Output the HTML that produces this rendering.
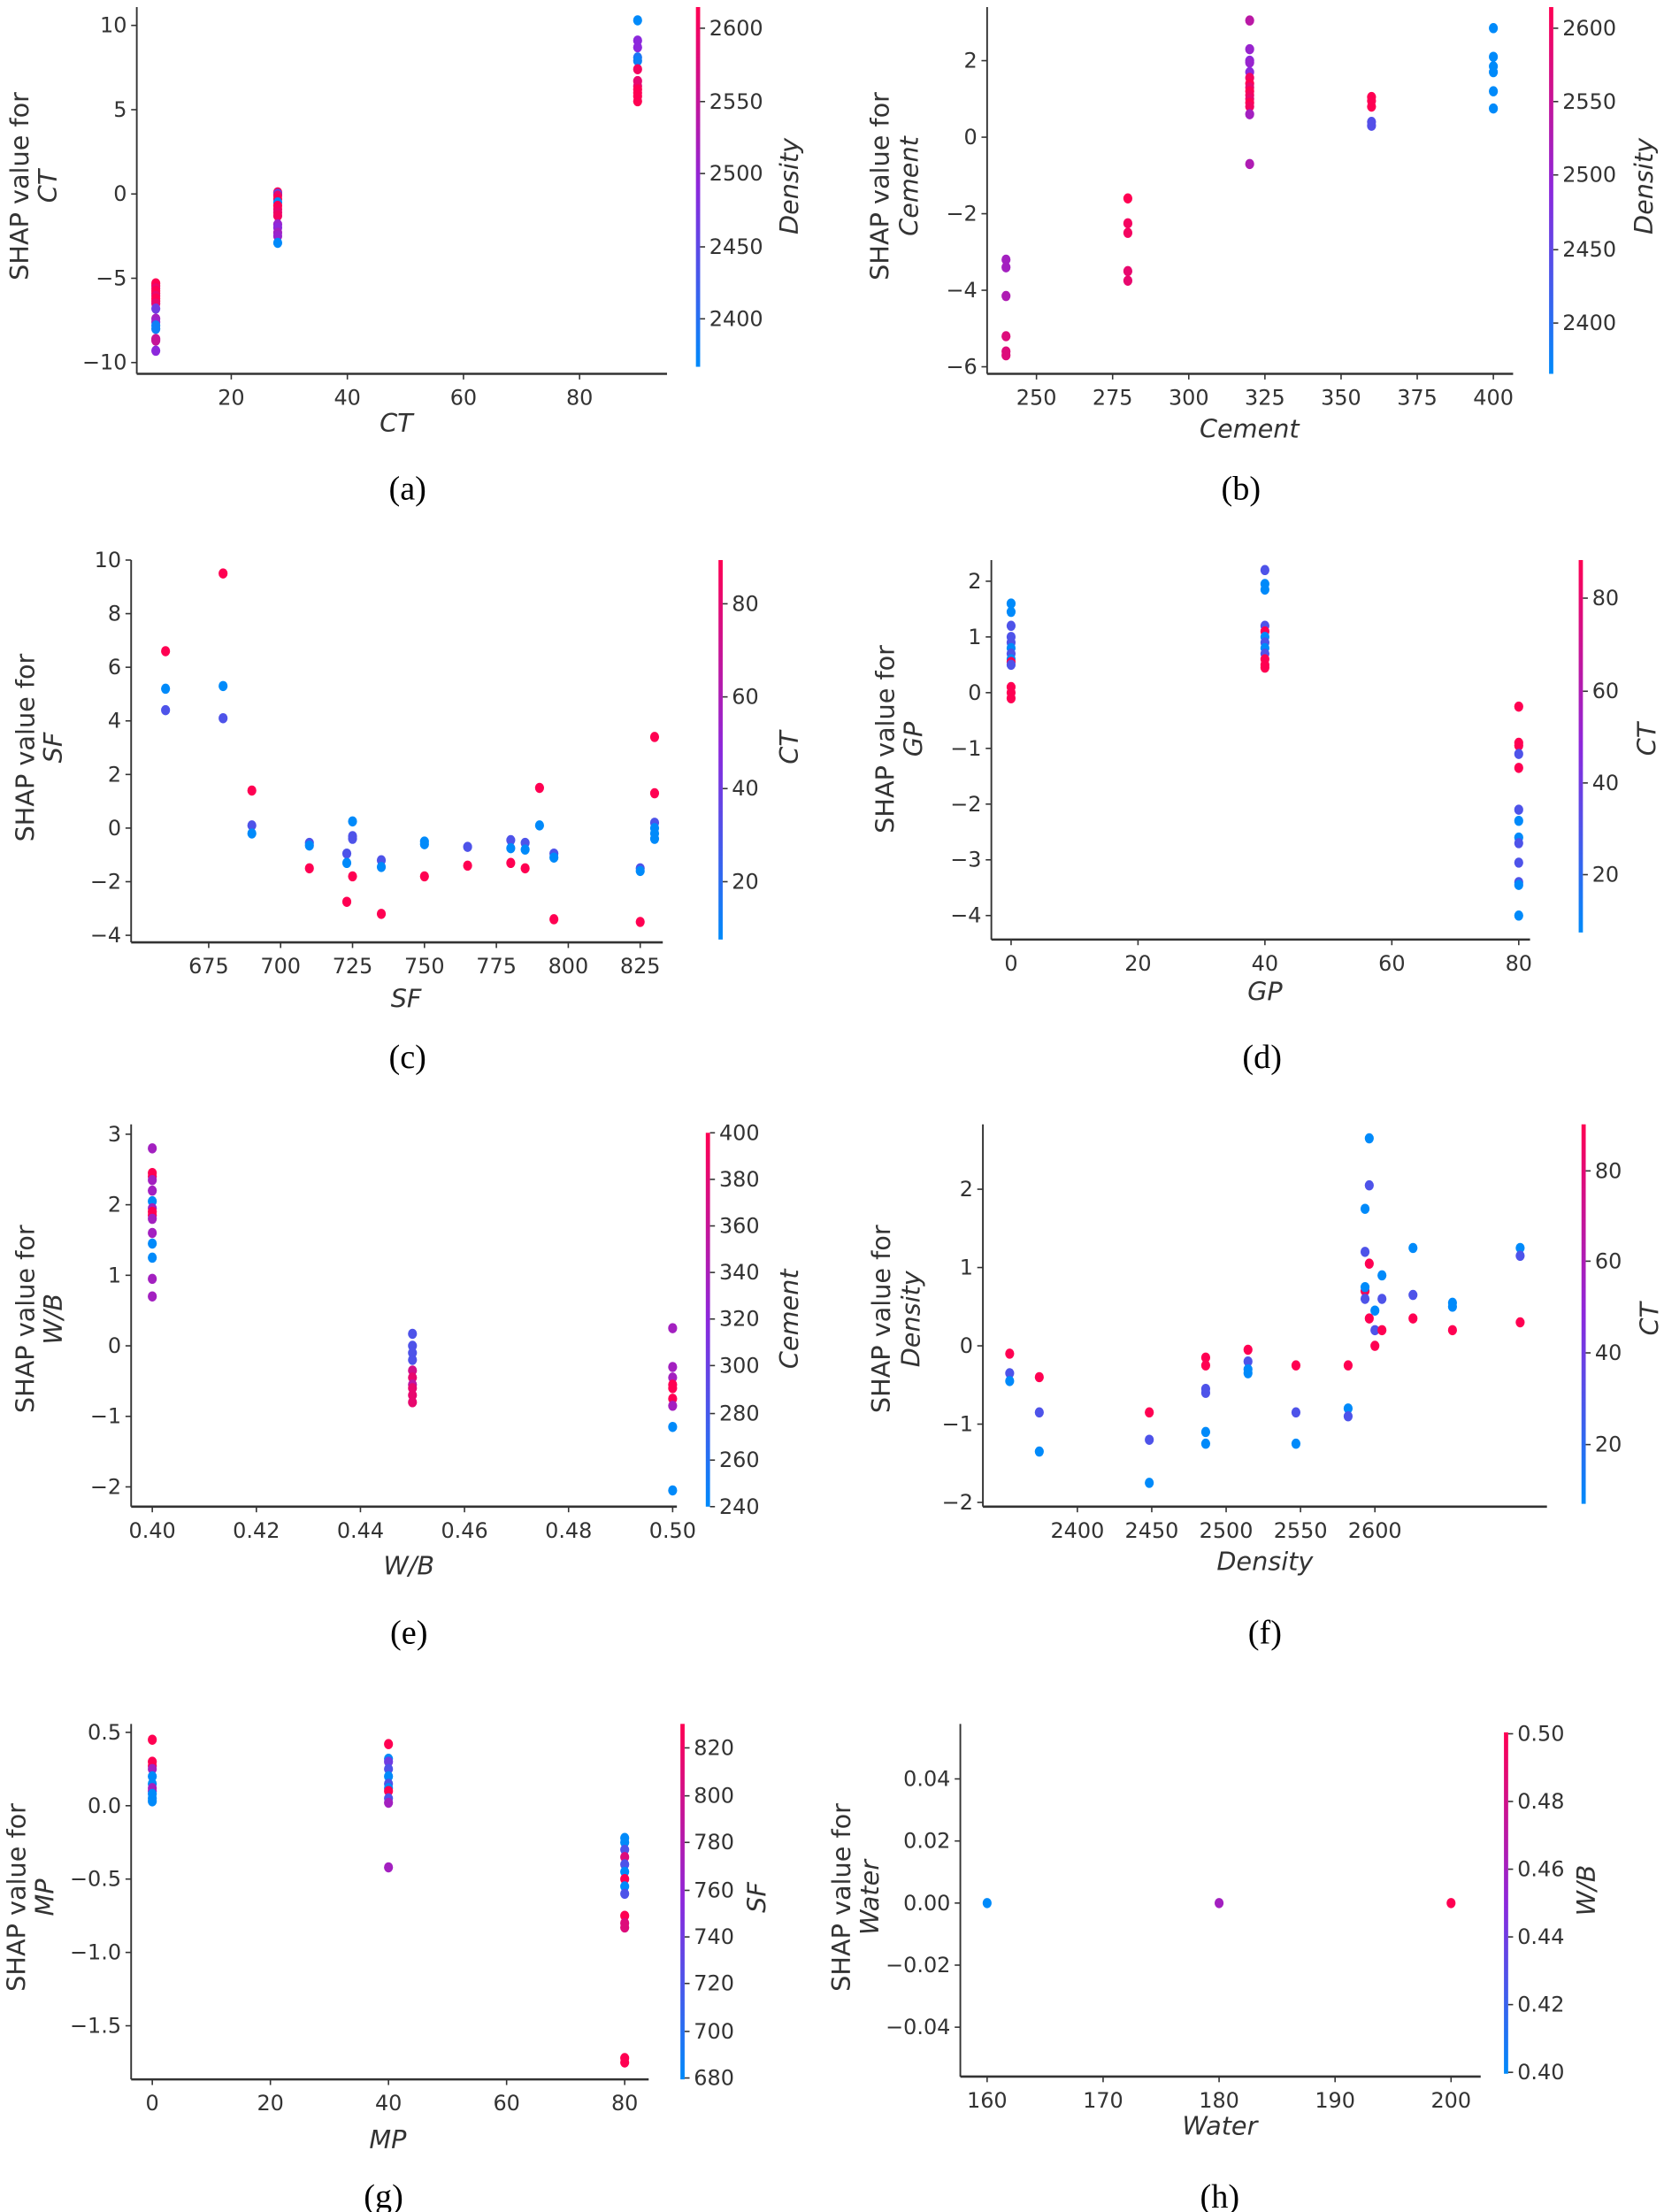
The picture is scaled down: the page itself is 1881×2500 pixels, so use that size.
<!DOCTYPE html>
<html><head><meta charset="utf-8">
<style>
html,body{margin:0;padding:0;background:#fff;}
svg{display:block;}
text{font-family:"DejaVu Sans","Liberation Sans",sans-serif;fill:#333;}
.lt{font-family:"Liberation Serif",serif;fill:#000;}
</style></head>
<body>
<svg id="s" xmlns="http://www.w3.org/2000/svg" width="1881" height="2500" viewBox="0 0 1180 1568" preserveAspectRatio="none">
<defs>
<linearGradient id="cb" x1="0" y1="1" x2="0" y2="0">
<stop offset="0" stop-color="rgb(0,138,250)"/>
<stop offset="0.5" stop-color="rgb(140,40,220)"/>
<stop offset="1" stop-color="rgb(255,0,82)"/>
</linearGradient>
</defs>
</svg>
<script>
const NS="http://www.w3.org/2000/svg";const S=document.getElementById('s');
function el(t,a,txt){const e=document.createElementNS(NS,t);for(const k in a)e.setAttribute(k,a[k]);if(txt!==undefined)e.textContent=txt;S.appendChild(e);return e;}
function col(t){let a,b,u;const B=[0,138,250],P=[140,40,220],R=[255,0,82];if(t<.5){a=B;b=P;u=t/.5}else{a=P;b=R;u=(t-.5)/.5}
return 'rgb('+a.map((v,i)=>Math.round(v+(b[i]-v)*u)).join(',')+')';}
function lin(v1,p1,v2,p2){return v=>p1+(v-v1)*(p2-p1)/(v2-v1);}
function panel(c){
 const X=lin(...c.xm),Y=lin(...c.ym);
 el('line',{x1:c.l,y1:c.t,x2:c.l,y2:c.b,stroke:'#333','stroke-width':1.2});
 el('line',{x1:c.l,y1:c.b,x2:c.r,y2:c.b,stroke:'#333','stroke-width':1.6});
 c.xt.forEach(v=>{const x=X(v[0]);el('line',{x1:x,y1:c.b,x2:x,y2:c.b+4,stroke:'#333','stroke-width':1});
  el('text',{x:x,y:c.b+22,'text-anchor':'middle','font-size':15},v[1]);});
 c.yt.forEach(v=>{const y=Y(v[0]);el('line',{x1:c.l-4,y1:y,x2:c.l,y2:y,stroke:'#333','stroke-width':1});
  el('text',{x:c.l-7,y:y+5,'text-anchor':'end','font-size':15},v[1]);});
 el('rect',{x:c.cx-1.5,y:c.ct,width:3,height:c.cb-c.ct,fill:'url(#cb)'});
 c.ctk.forEach(v=>{el('line',{x1:c.cx+1.5,y1:v[1],x2:c.cx+5,y2:v[1],stroke:'#333','stroke-width':1});
  el('text',{x:c.cx+8,y:v[1]+5,'font-size':15},v[0]);});
 el('text',{x:0,y:0,'font-size':18,'font-style':'italic','text-anchor':'middle',transform:'translate('+c.clx+','+c.cly+') rotate(-90)'},c.cl);
 el('text',{x:0,y:0,'font-size':18,'text-anchor':'middle',transform:'translate('+c.yl1+','+c.ylc+') rotate(-90)'},'SHAP value for');
 el('text',{x:0,y:0,'font-size':18,'font-style':'italic','text-anchor':'middle',transform:'translate('+c.yl2+','+c.ylc+') rotate(-90)'},c.f);
 el('text',{x:c.xlx,y:c.xly,'font-size':18,'font-style':'italic','text-anchor':'middle'},c.f);
 el('text',{x:c.lx,y:c.ly,'font-size':24,'text-anchor':'middle','class':'lt'},c.L);
 c.d.forEach(g=>{const x=c.px?g[0]:X(g[0]);for(let i=1;i<g.length;i+=2){el('ellipse',{cx:x,cy:Y(g[i]),rx:3.2,ry:3.6,fill:col(g[i+1])});}});
}
const r=1,p=.5,b=0,q=.28;
panel({L:'(a)',f:'CT',cl:'Density',l:97,r:473,t:5,b:265,xm:[20,164,80,411],ym:[10,18,-10,257],
xt:[[20,'20'],[40,'40'],[60,'60'],[80,'80']],yt:[[10,'10'],[5,'5'],[0,'0'],[-5,'\u22125'],[-10,'\u221210']],
cx:495,ct:5,cb:260,ctk:[['2600',20],['2550',72],['2500',123],['2450',175],['2400',226]],clx:566,cly:132,
yl1:20,yl2:40,ylc:132,xlx:281,xly:306,lx:289,ly:354,
d:[[7,-5.3,1,-5.45,1,-5.6,.9,-5.75,1,-5.9,1,-6.05,.9,-6.2,1,-6.35,1,-6.5,.9,-6.8,.4,-7.4,.6,-7.6,.55,-7.8,.05,-8.0,.05,-8.6,.75,-8.7,.75,-9.3,.5],
[28,.1,.95,0,.3,-.1,.9,-.3,1,-.5,0,-.7,1,-.9,.95,-1.1,.9,-1.3,.95,-1.8,.55,-2.0,.5,-2.3,.6,-2.5,.55,-2.9,0],
[90,10.3,0,9.1,.5,8.7,.5,8.1,.1,7.9,.05,7.4,.95,6.7,.9,6.4,.9,6.2,1,6.0,1,5.8,1,5.5,1]]});
panel({L:'(b)',f:'Cement',cl:'Density',l:700,r:1073,t:5,b:265,xm:[250,735,400,1059],ym:[2,43,-6,260],
xt:[[250,'250'],[275,'275'],[300,'300'],[325,'325'],[350,'350'],[375,'375'],[400,'400']],yt:[[2,'2'],[0,'0'],[-2,'\u22122'],[-4,'\u22124'],[-6,'\u22126']],
cx:1100,ct:5,cb:265,ctk:[['2600',20],['2550',72],['2500',124],['2450',177],['2400',229]],clx:1172,cly:132,
yl1:630,yl2:651,ylc:132,xlx:886,xly:310,lx:880,ly:354,
d:[[240,-3.2,.6,-3.4,.6,-4.15,.65,-5.2,.85,-5.6,.85,-5.7,.85],[280,-1.6,1,-2.25,.95,-2.5,.95,-3.5,.9,-3.75,.9],
[320,3.05,.7,2.3,.55,2.0,.5,1.95,.55,1.7,.5,1.55,.95,1.4,1,1.3,.9,1.2,1,1.1,.95,1.0,.9,.9,1,.8,.95,.6,.6,-.7,.65],
[360,1.05,1,.95,1,.8,1,.4,.3,.3,.3],[400,2.85,0,2.1,0,1.85,0,1.7,0,1.2,0,.75,0]]});
panel({L:'(c)',f:'SF',cl:'CT',l:93,r:470,t:397,b:668,xm:[675,148,825,454],ym:[10,397,-4,663],
xt:[[675,'675'],[700,'700'],[725,'725'],[750,'750'],[775,'775'],[800,'800'],[825,'825']],yt:[[10,'10'],[8,'8'],[6,'6'],[4,'4'],[2,'2'],[0,'0'],[-2,'\u22122'],[-4,'\u22124']],
cx:511,ct:397,cb:666,ctk:[['80',428],['60',494],['40',559],['20',625]],clx:566,cly:530,
yl1:24,yl2:44,ylc:530,xlx:288,xly:714,lx:289,ly:757,
d:[[660,6.6,r,5.2,b,4.4,q],[680,9.5,r,5.3,b,4.1,q],[690,1.4,r,.1,q,-.2,b],[710,-.55,q,-.65,b,-1.5,r],[723,-.95,q,-1.3,b,-2.75,r],
[725,.25,b,-.4,q,-.3,q,-1.8,r],[735,-1.2,q,-1.45,b,-3.2,r],[750,-.5,b,-.6,b,-1.8,r],[765,-.7,q,-1.4,r],[780,-.45,q,-.75,b,-1.3,r],
[785,-.55,q,-.8,b,-1.5,r],[790,1.5,r,.1,b],[795,-.95,q,-1.1,b,-3.4,r],[825,-1.5,q,-1.6,b,-3.5,r],[830,3.4,r,1.3,r,.2,q,0,b,-.2,b,-.4,b]]});
panel({L:'(d)',f:'GP',cl:'CT',l:703,r:1085,t:397,b:666,xm:[0,717,80,1077],ym:[0,491,-4,649],
xt:[[0,'0'],[20,'20'],[40,'40'],[60,'60'],[80,'80']],yt:[[2,'2'],[1,'1'],[0,'0'],[-1,'\u22121'],[-2,'\u22122'],[-3,'\u22123'],[-4,'\u22124']],
cx:1121,ct:397,cb:661,ctk:[['80',424],['60',490],['40',555],['20',620]],clx:1174,cly:524,
yl1:634,yl2:654,ylc:524,xlx:897,xly:709,lx:895,ly:757,
d:[[0,1.6,b,1.45,b,1.2,q,1.0,q,.9,q,.8,b,.7,q,.6,b,.55,r,.5,q,.1,r,0,r,-.1,r],
[40,2.2,q,1.95,b,1.85,b,1.2,q,1.1,r,1.0,b,.9,q,.8,b,.7,q,.6,r,.5,r,.45,r],
[80,-.25,r,-.9,r,-.95,r,-1.1,q,-1.35,r,-2.1,q,-2.3,b,-2.6,b,-2.7,q,-3.05,q,-3.4,q,-3.45,b,-4.0,b]]});
panel({L:'(e)',f:'W/B',cl:'Cement',l:93,r:480,t:797,b:1068,xm:[.4,108,.5,477],ym:[0,954,-2,1054],
xt:[[.4,'0.40'],[.42,'0.42'],[.44,'0.44'],[.46,'0.46'],[.48,'0.48'],[.5,'0.50']],yt:[[3,'3'],[2,'2'],[1,'1'],[0,'0'],[-1,'\u22121'],[-2,'\u22122']],
cx:502,ct:803,cb:1068,ctk:[['400',803],['380',836],['360',869],['340',902],['320',935],['300',968],['280',1002],['260',1035],['240',1068]],clx:566,cly:935,
yl1:24,yl2:44,ylc:935,xlx:290,xly:1116,lx:290,ly:1165,
d:[[.4,2.8,.6,2.45,1,2.4,1,2.35,.6,2.2,.6,2.05,b,1.95,.6,1.9,1,1.85,1,1.8,.6,1.6,.6,1.45,b,1.25,b,.95,.6,.7,.6],
[.45,.17,q,0,q,-.1,q,-.2,q,-.35,.8,-.45,.9,-.55,.7,-.6,.9,-.7,.9,-.8,.9],
[.5,.25,.6,-.3,.6,-.45,.6,-.55,1,-.6,1,-.75,1,-.85,.6,-1.15,b,-2.05,b]]});
panel({L:'(f)',f:'Density',cl:'CT',l:697,r:1097,t:797,b:1068,xm:[2400,764,2600,975],ym:[0,954,-2,1065],px:1,
xt:[[2400,'2400'],[2450,'2450'],[2500,'2500'],[2550,'2550'],[2600,'2600']],yt:[[2,'2'],[1,'1'],[0,'0'],[-1,'\u22121'],[-2,'\u22122']],
cx:1123,ct:797,cb:1066,ctk:[['80',830],['60',894],['40',959],['20',1024]],clx:1176,cly:935,
yl1:631,yl2:652,ylc:935,xlx:897,xly:1113,lx:897,ly:1165,
d:[[716,-.1,r,-.35,q,-.45,b],[737,-.4,r,-.85,q,-1.35,b],[815,-.85,r,-1.2,q,-1.75,b],[855,-.15,r,-.25,r,-.55,q,-.6,q,-1.1,b,-1.25,b],
[885,-.05,r,-.2,q,-.3,b,-.35,b],[919,-.25,r,-.85,q,-1.25,b],[956,-.25,r,-.8,b,-.9,q],[968,1.2,q,.7,r,.6,q,.75,b,1.75,b],
[971,2.65,b,2.05,q,1.05,r,.35,r],[975,.45,b,.2,q,0,r],[980,.9,b,.6,q,.2,r],[1002,1.25,b,.65,q,.35,r],[1030,.5,b,.55,b,.2,r],[1078,1.25,b,1.15,q,.3,r]]});
panel({L:'(g)',f:'MP',cl:'SF',l:93,r:460,t:1222,b:1474,xm:[0,108,80,443],ym:[0,1280,-1.5,1436],
xt:[[0,'0'],[20,'20'],[40,'40'],[60,'60'],[80,'80']],yt:[[.5,'0.5'],[0,'0.0'],[-.5,'\u22120.5'],[-1,'\u22121.0'],[-1.5,'\u22121.5']],
cx:484,ct:1222,cb:1474,ctk:[['820',1239],['800',1273],['780',1306],['760',1340],['740',1373],['720',1406],['700',1440],['680',1473]],clx:543,cly:1345,
yl1:18,yl2:38,ylc:1345,xlx:275,xly:1523,lx:272,ly:1565,
d:[[0,.45,r,.3,r,.27,r,.25,.6,.2,b,.15,b,.12,.6,.1,.6,.08,b,.05,b,.03,b],
[40,.42,r,.32,b,.3,.4,.25,q,.2,b,.15,q,.12,b,.1,r,.05,q,.02,.6,-.42,.6],
[80,-.22,b,-.25,b,-.3,q,-.35,.85,-.4,q,-.45,b,-.5,r,-.55,b,-.6,q,-.75,r,-.8,.85,-.83,.85,-1.72,r,-1.75,r]]});
panel({L:'(h)',f:'Water',cl:'W/B',l:681,r:1050,t:1222,b:1472,xm:[160,700,200,1029],ym:[0,1349,.04,1261],
xt:[[160,'160'],[170,'170'],[180,'180'],[190,'190'],[200,'200']],yt:[[.04,'0.04'],[.02,'0.02'],[0,'0.00'],[-.02,'\u22120.02'],[-.04,'\u22120.04']],
cx:1068,ct:1228,cb:1470,ctk:[['0.50',1229],['0.48',1277],['0.46',1325],['0.44',1373],['0.42',1421],['0.40',1469]],clx:1131,cly:1340,
yl1:603,yl2:623,ylc:1345,xlx:865,xly:1513,lx:865,ly:1565,
d:[[160,0,b],[180,0,.6],[200,0,r]]});
</script>
</body></html>
